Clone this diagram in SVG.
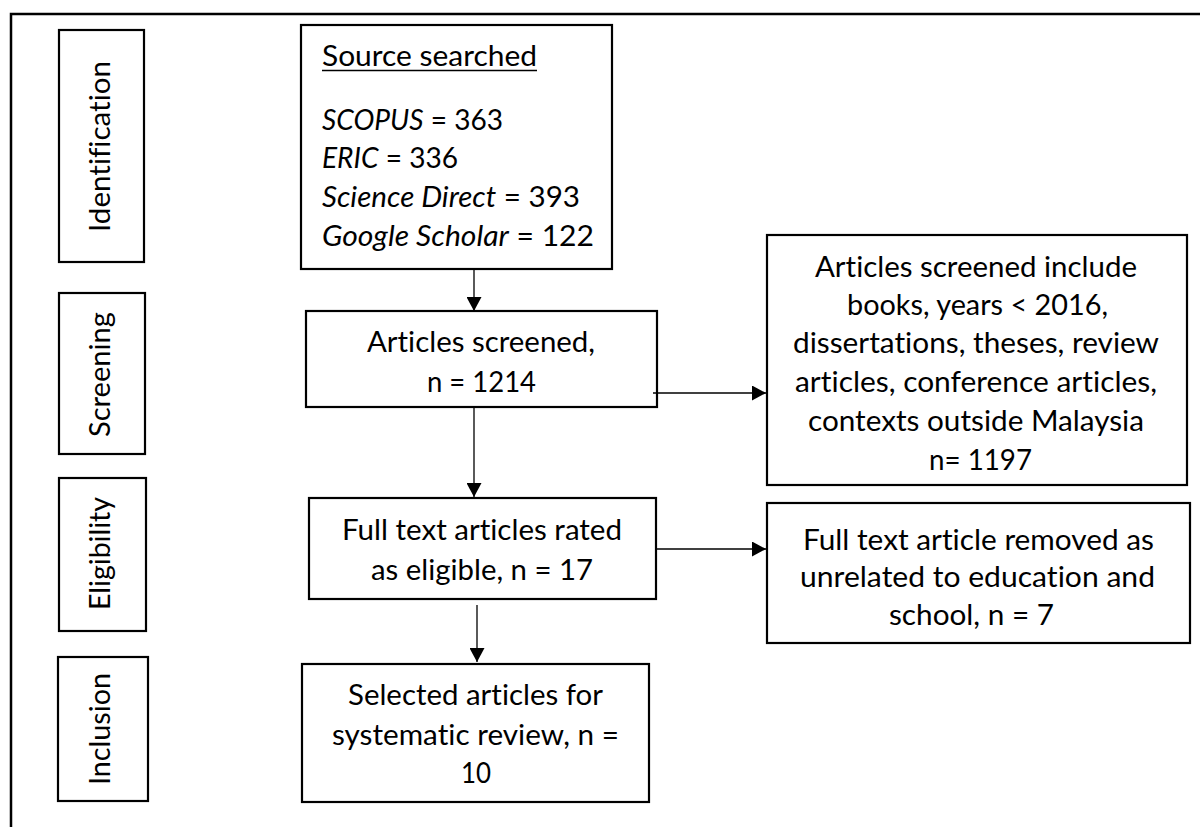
<svg xmlns="http://www.w3.org/2000/svg" width="1200" height="827" viewBox="0 0 1200 827">
<style>
.box{fill:#fff;stroke:#000;stroke-width:2.2}
.t{font-family:Lato,"Open Sans","Liberation Sans",sans-serif;font-size:28px;fill:#000;font-variant-ligatures:none;font-feature-settings:"liga" 0,"clig" 0}
.c{text-anchor:middle}
.i{font-style:italic}
.ln{stroke:#000;stroke-width:1.3;fill:none}
</style>
<defs>
<marker id="ah" markerUnits="userSpaceOnUse" markerWidth="15" markerHeight="15" refX="14" refY="7.5" orient="auto">
<path d="M0,0 L14,7.5 L0,15 z" fill="#000"/>
</marker>
</defs>
<rect width="1200" height="827" fill="#fff"/>
<path d="M11,827 V14 H1200" fill="none" stroke="#000" stroke-width="2.5"/>

<g id="stage-identification">
<rect class="box" x="59" y="30" width="85" height="232"/>
<text class="t c" transform="translate(110,146.5) rotate(-90)" x="0" y="0" textLength="171" lengthAdjust="spacingAndGlyphs">Identification</text>
</g>
<g id="stage-screening">
<rect class="box" x="59" y="293" width="86" height="161"/>
<text class="t c" transform="translate(110,374.5) rotate(-90)" x="0" y="0" textLength="125" lengthAdjust="spacingAndGlyphs">Screening</text>
</g>
<g id="stage-eligibility">
<rect class="box" x="59" y="478" width="87" height="153"/>
<text class="t c" transform="translate(110,553.5) rotate(-90)" x="0" y="0" textLength="113" lengthAdjust="spacingAndGlyphs">Eligibility</text>
</g>
<g id="stage-inclusion">
<rect class="box" x="58" y="657" width="90" height="144"/>
<text class="t c" transform="translate(110,729) rotate(-90)" x="0" y="0" textLength="112" lengthAdjust="spacingAndGlyphs">Inclusion</text>
</g>

<g id="source-searched">
<rect class="box" x="301" y="25" width="311" height="244"/>
<text class="t" x="322" y="66" textLength="215" lengthAdjust="spacingAndGlyphs">Source searched</text>
<line x1="322" y1="70.5" x2="537" y2="70.5" stroke="#000" stroke-width="1.6"/>
<text class="t" x="322" y="130" textLength="181" lengthAdjust="spacingAndGlyphs"><tspan class="i">SCOPUS</tspan> = 363</text>
<text class="t" x="322" y="168" textLength="136" lengthAdjust="spacingAndGlyphs"><tspan class="i">ERIC</tspan> = 336</text>
<text class="t" x="322" y="207" textLength="258" lengthAdjust="spacingAndGlyphs"><tspan class="i">Science Direct</tspan> = 393</text>
<text class="t" x="322" y="246" textLength="272" lengthAdjust="spacingAndGlyphs"><tspan class="i">Google Scholar</tspan> = 122</text>
</g>

<g id="articles-screened">
<rect class="box" x="306" y="311" width="351" height="96"/>
<text class="t c" x="481" y="352" textLength="228" lengthAdjust="spacingAndGlyphs">Articles screened,</text>
<text class="t c" x="481.5" y="392" textLength="109" lengthAdjust="spacingAndGlyphs">n = 1214</text>
</g>

<g id="screened-excluded">
<rect class="box" x="767" y="235" width="420" height="250"/>
<text class="t c" x="976" y="277" textLength="322" lengthAdjust="spacingAndGlyphs">Articles screened include</text>
<text class="t c" x="977.5" y="315" textLength="261" lengthAdjust="spacingAndGlyphs">books, years &lt; 2016,</text>
<text class="t c" x="976" y="353" textLength="366" lengthAdjust="spacingAndGlyphs">dissertations, theses, review</text>
<text class="t c" x="976" y="392" textLength="362" lengthAdjust="spacingAndGlyphs">articles, conference articles,</text>
<text class="t c" x="976" y="431" textLength="336" lengthAdjust="spacingAndGlyphs">contexts outside Malaysia</text>
<text class="t c" x="980.5" y="470" textLength="103" lengthAdjust="spacingAndGlyphs">n= 1197</text>
</g>

<g id="full-text-eligible">
<rect class="box" x="309" y="498" width="347" height="101"/>
<text class="t c" x="482" y="540" textLength="280" lengthAdjust="spacingAndGlyphs">Full text articles rated</text>
<text class="t c" x="482" y="580" textLength="222" lengthAdjust="spacingAndGlyphs">as eligible, n = 17</text>
</g>

<g id="full-text-removed">
<rect class="box" x="767" y="503" width="423" height="140"/>
<text class="t c" x="978.5" y="550" textLength="351" lengthAdjust="spacingAndGlyphs">Full text article removed as</text>
<text class="t c" x="977.5" y="587" textLength="355" lengthAdjust="spacingAndGlyphs">unrelated to education and</text>
<text class="t c" x="971.5" y="625" textLength="165" lengthAdjust="spacingAndGlyphs">school, n = 7</text>
</g>

<g id="selected">
<rect class="box" x="302" y="664" width="347" height="138"/>
<text class="t c" x="475.5" y="705" textLength="255" lengthAdjust="spacingAndGlyphs">Selected articles for</text>
<text class="t c" x="475.5" y="745" textLength="287" lengthAdjust="spacingAndGlyphs">systematic review, n =</text>
<text class="t c" x="476" y="783" textLength="30" lengthAdjust="spacingAndGlyphs">10</text>
</g>

<g id="connectors">
<line class="ln" x1="474" y1="270" x2="474" y2="311" marker-end="url(#ah)"/>
<line class="ln" x1="474" y1="408" x2="474" y2="497" marker-end="url(#ah)"/>
<line class="ln" x1="477" y1="605" x2="477" y2="662" marker-end="url(#ah)"/>
<line class="ln" x1="653" y1="393" x2="766" y2="393" marker-end="url(#ah)"/>
<line class="ln" x1="656" y1="549" x2="766" y2="549" marker-end="url(#ah)"/>
</g>
</svg>
